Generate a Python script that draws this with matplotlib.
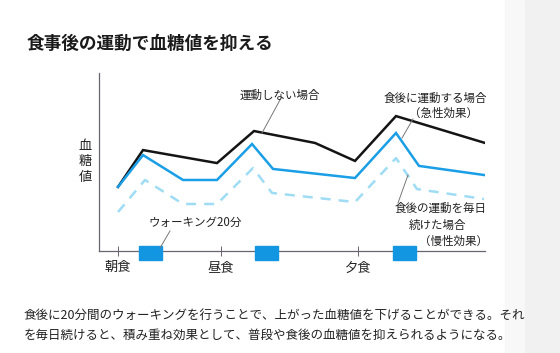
import matplotlib
matplotlib.use("Agg")
import matplotlib.pyplot as plt
from matplotlib.patches import Rectangle

plt.rcParams["font.family"] = ["Noto Sans CJK JP", "DejaVu Sans"]

W, H = 560, 353

# time axis (arbitrary units, breakfast = 0) and relative blood glucose (0-100)
meal_x = [0, 10.3, 24.0]
meal_labels = ["朝食", "昼食", "夕食"]

no_ex_x = [0, 2.5, 9.9, 13.6, 19.7, 23.7, 27.8, 36.7]
no_ex_y = [36.0, 56.7, 49.4, 67.4, 60.7, 50.6, 75.8, 60.7]

acute_x = [0, 2.5, 6.5, 9.9, 13.4, 15.5, 23.7, 27.8, 30.1, 36.6]
acute_y = [36.0, 53.9, 39.9, 39.9, 60.1, 46.1, 41.0, 66.3, 47.8, 42.7]

chronic_x = [0, 2.7, 6.5, 9.9, 13.5, 15.4, 23.7, 27.8, 29.9, 36.6]
chronic_y = [21.9, 39.9, 26.4, 26.4, 46.6, 32.6, 27.5, 52.2, 34.8, 29.2]

walk_start = [2.1, 13.7, 27.5]
walk_len = 2.3

BLACK = "#141414"
BLUE = "#1a9ee6"
LIGHT = "#9fdcf5"
AXIS = "#6a6470"


def fx(x):
    return x / W


def fy(y):
    return 1 - y / H


fig = plt.figure(figsize=(W / 100, H / 100), dpi=100)
# scanned page edge on the right
fig.patches.append(Rectangle((fx(505), 0), fx(20), 1, transform=fig.transFigure,
                             color="#f8f8f8", zorder=0))
fig.patches.append(Rectangle((fx(525), 0), 1 - fx(525), 1, transform=fig.transFigure,
                             color="#f1f1f1", zorder=0))

ax = fig.add_axes([fx(99), fy(251), fx(485) - fx(99), (251 - 73) / H])
ax.set_xlim(-1.9, 36.7)
ax.set_ylim(0, 100)
ax.patch.set_alpha(0)

ax.plot(no_ex_x, no_ex_y, color=BLACK, lw=1.8, solid_joinstyle="miter")
ax.plot(acute_x, acute_y, color=BLUE, lw=1.8, solid_joinstyle="miter")
ax.plot(chronic_x, chronic_y, color=LIGHT, lw=1.8, dashes=(4, 3.2))

for s in walk_start:
    ax.add_patch(Rectangle((s, -5.1), walk_len, 7.9, color="#1396e2", zorder=5,
                           clip_on=False))

for side in ["top", "right"]:
    ax.spines[side].set_visible(False)
for side in ["left", "bottom"]:
    ax.spines[side].set_color(AXIS)
    ax.spines[side].set_linewidth(0.9)
ax.set_yticks([])
ax.set_xticks(meal_x)
ax.set_xticklabels([])
ax.tick_params(axis="x", direction="inout", length=7, width=0.7, color=AXIS)
for x, lab in zip(meal_x, meal_labels):
    ax.text(x, -9.5, lab, ha="center", va="center", fontsize=9.5, color="#222")

# title and texts
fig.text(fx(27), fy(44), "食事後の運動で血糖値を抑える", fontsize=12.7, fontweight="bold",
         va="center", ha="left", color="#1a1a1a")
for i, ch in enumerate("血糖値"):
    fig.text(fx(85), fy(147 + 15 * i), ch, fontsize=9.5, ha="center", va="center", color="#222")

lab_kw = dict(fontsize=8.3, va="center", color="#222")
fig.text(fx(240), fy(95), "運動しない場合", ha="left", **lab_kw)
fig.text(fx(487), fy(98), "食後に運動する場合", ha="right", **lab_kw)
fig.text(fx(478), fy(113), "（急性効果）", ha="right", **lab_kw)
fig.text(fx(487), fy(208), "食後の運動を毎日", ha="right", **lab_kw)
fig.text(fx(466), fy(225), "続けた場合", ha="right", **lab_kw)
fig.text(fx(488), fy(241), "（慢性効果）", ha="right", **lab_kw)
fig.text(fx(148), fy(222), "ウォーキング20分", ha="left", **lab_kw)

# leader lines
leaders = [((280, 100), (262, 133)), ((413, 119), (402, 138)),
           ((408, 175), (398, 203)), ((170, 231), (160, 248))]
for (x0, y0), (x1, y1) in leaders:
    fig.add_artist(plt.Line2D([fx(x0), fx(x1)], [fy(y0), fy(y1)], color="#777",
                              lw=0.7, transform=fig.transFigure))

body_kw = dict(fontsize=9.0, ha="left", va="center", color="#222")
fig.text(fx(24), fy(315), "食後に20分間のウォーキングを行うことで、上がった血糖値を下げることができる。それ", **body_kw)
fig.text(fx(24), fy(335), "を毎日続けると、積み重ね効果として、普段や食後の血糖値を抑えられるようになる。", **body_kw)

fig.savefig("out.png", dpi=100)
